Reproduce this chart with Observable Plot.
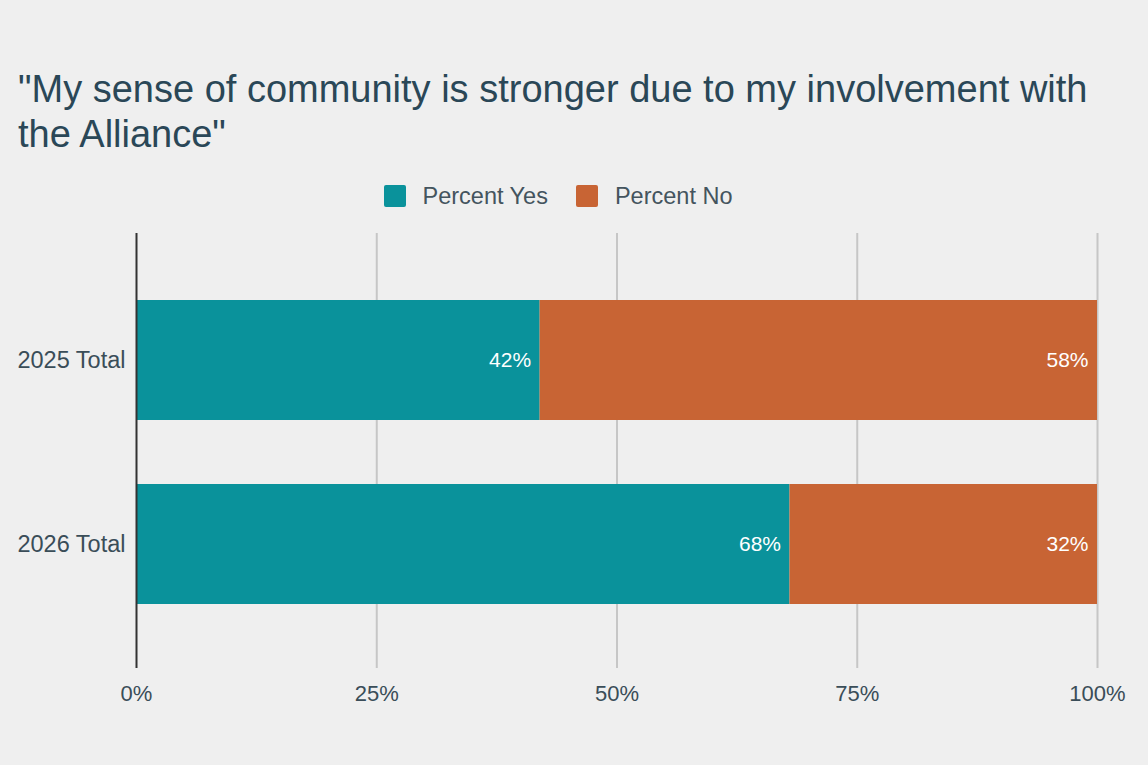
<!DOCTYPE html>
<html>
<head>
<meta charset="utf-8">
<script src="https://cdn.jsdelivr.net/npm/d3@7"></script>
<script src="https://cdn.jsdelivr.net/npm/@observablehq/plot@0.6"></script>
<style>
  html, body { margin: 0; padding: 0; background: #efefef; }
  body { width: 1148px; height: 765px; position: relative; overflow: hidden;
         font-family: "Liberation Sans", Arial, sans-serif; }
  #title { position: absolute; left: 18px; top: 67px; font-size: 38px; line-height: 45px;
           color: #2a4757; white-space: nowrap; }
  #legend { position: absolute; left: -16px; width: 1148px; top: 181px; height: 30px;
            display: flex; justify-content: center; align-items: center;
            font-size: 23.5px; color: #44545e; }
  .item { display: flex; align-items: center; margin: 0 14px; }
  .swatch { width: 22px; height: 22px; border-radius: 2px; margin-right: 17px; }
  #chart { position: absolute; left: 0; top: 220px; }
</style>
</head>
<body>
<div id="title">"My sense of community is stronger due to my involvement with<br>the Alliance"</div>
<div id="legend"></div>
<div id="chart"></div>
<script>
// Survey responses by year
const categories = ["2025 Total", "2026 Total"];
const percentYes = [42, 68];
const percentNo = [58, 32];
const seriesNames = ["Percent Yes", "Percent No"];
const seriesColors = ["#0a929b", "#c86434"];
const xTicks = [0, 25, 50, 75, 100];

// Long table for stacking
const rows = categories.flatMap((category, i) => [
  {category, series: seriesNames[0], value: percentYes[i]},
  {category, series: seriesNames[1], value: percentNo[i]}
]);

// Legend
const legend = document.getElementById("legend");
seriesNames.forEach((name, i) => {
  const item = document.createElement("div");
  item.className = "item";
  item.innerHTML = `<span class="swatch" style="background:${seriesColors[i]}"></span><span>${name}</span>`;
  legend.appendChild(item);
});

const fmt = d => `${d}%`;

const chart = Plot.plot({
  width: 1148,
  height: 500,
  marginLeft: 136,
  marginRight: 51,
  marginTop: 13,
  marginBottom: 52,
  style: {background: "transparent", color: "#3a4d58", fontFamily: "'Liberation Sans', Arial, sans-serif"},
  x: {domain: [0, 100], label: null},
  y: {domain: categories, range: [80, 384], paddingInner: 0.348, paddingOuter: 0, label: null},
  color: {domain: seriesNames, range: seriesColors},
  marks: [
    Plot.gridX(xTicks.filter(d => d > 0), {stroke: "#c6c6c6", strokeOpacity: 1, strokeWidth: 2}),
    Plot.barX(rows, Plot.stackX({x: "value", y: "category", fill: "series", order: seriesNames})),
    Plot.text(rows, Plot.stackX2({
      x: "value", y: "category", z: "series", order: seriesNames,
      text: d => fmt(d.value), fill: "#ffffff", textAnchor: "end", dx: -9, fontSize: 21
    })),
    Plot.ruleX([0], {stroke: "#333333", strokeWidth: 2}),
    Plot.axisX(xTicks, {tickSize: 0, tickPadding: 17, tickFormat: fmt, fontSize: 22, label: null}),
    Plot.axisY({tickSize: 0, tickPadding: 11, fontSize: 23.5, label: null})
  ]
});
document.getElementById("chart").appendChild(chart);
</script>
</body>
</html>
